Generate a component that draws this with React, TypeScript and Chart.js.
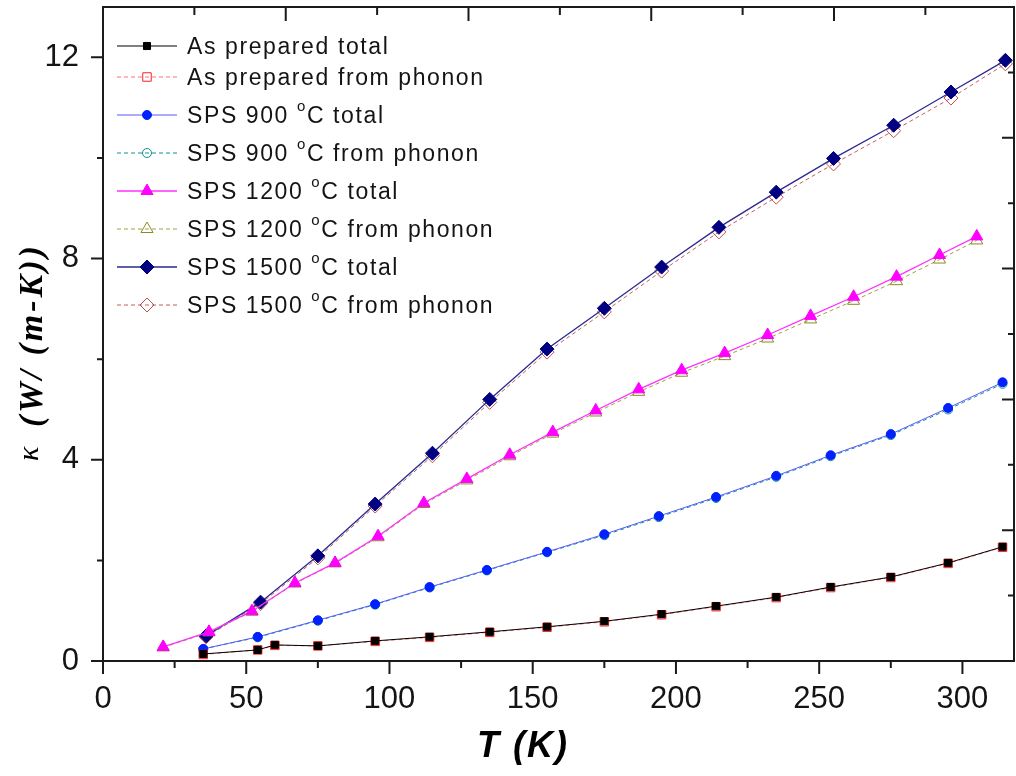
import React, { useEffect, useRef } from 'react';
import { Chart, registerables } from 'chart.js';
import { drawPoint } from 'chart.js/helpers';

Chart.register(...registerables);

// Temperature (K) and thermal conductivity κ (W/(m-K)) for each sample
const tAsPrepared = [35, 54, 60, 75, 95, 114, 135, 155, 175, 195, 214, 235, 254, 275, 295, 314];
const kAsPreparedTotal = [0.14, 0.22, 0.32, 0.30, 0.40, 0.48, 0.58, 0.68, 0.79, 0.93, 1.09, 1.27, 1.47, 1.67, 1.95, 2.27];
const kAsPreparedPhonon = [0.13, 0.22, 0.31, 0.30, 0.39, 0.47, 0.57, 0.67, 0.78, 0.92, 1.08, 1.26, 1.46, 1.66, 1.94, 2.26];

const t900 = [35, 54, 75, 95, 114, 134, 155, 175, 194, 214, 235, 254, 275, 295, 314];
const k900Total = [0.24, 0.48, 0.81, 1.13, 1.47, 1.81, 2.17, 2.52, 2.88, 3.26, 3.68, 4.09, 4.51, 5.03, 5.54];
const k900Phonon = [0.24, 0.47, 0.80, 1.12, 1.46, 1.80, 2.16, 2.50, 2.86, 3.24, 3.66, 4.07, 4.49, 5.00, 5.51];

const t1200 = [21, 37, 52, 67, 81, 96, 112, 127, 142, 157, 172, 187, 202, 217, 232, 247, 262, 277, 292, 305];
const k1200Total = [0.28, 0.58, 0.99, 1.55, 1.95, 2.48, 3.14, 3.62, 4.10, 4.55, 4.98, 5.40, 5.78, 6.12, 6.48, 6.86, 7.24, 7.64, 8.07, 8.44];
const k1200Phonon = [0.27, 0.57, 0.98, 1.54, 1.94, 2.46, 3.12, 3.59, 4.07, 4.52, 4.94, 5.35, 5.73, 6.06, 6.41, 6.79, 7.16, 7.55, 7.98, 8.36];

const t1500 = [36, 55, 75, 95, 115, 135, 155, 175, 195, 215, 235, 255, 276, 296, 315];
const k1500Total = [0.50, 1.17, 2.09, 3.12, 4.13, 5.20, 6.20, 7.01, 7.83, 8.62, 9.32, 9.99, 10.65, 11.31, 11.94];
const k1500Phonon = [0.48, 1.14, 2.05, 3.08, 4.08, 5.14, 6.14, 6.94, 7.75, 8.53, 9.22, 9.88, 10.54, 11.19, 11.87];

const seriesLabels = [
  'As prepared total',
  'As prepared from phonon',
  'SPS 900 °C total',
  'SPS 900 °C from phonon',
  'SPS 1200 °C total',
  'SPS 1200 °C from phonon',
  'SPS 1500 °C total',
  'SPS 1500 °C from phonon',
];

// Axis tick marks (bottom/left carry labels; top/right are bare frame axes)
const bottomTicks = [0, 25, 50, 75, 100, 125, 150, 175, 200, 225, 250, 275, 300];
const leftTicks = [0, 2, 4, 6, 8, 10, 12];
const topTicks = [0, 1, 2, 3, 4, 5, 6, 7, 8, 9];
const rightTicks = [0, 1, 2, 3, 4, 5, 6, 7, 8, 9, 10];

const SANS = "'Liberation Sans', Arial, Helvetica, sans-serif";
const SERIF = "'Liberation Serif', 'Times New Roman', serif";
const FRAME = '#1a1a1a';
const TEXT = '#141414';

type Style = {
  line: string;
  lineWidth: number;
  dash: number[];
  point: string;
  radius: number;
  edge: string;
  fill: string;
};

const styles: Style[] = [
  { line: '#000000', lineWidth: 1, dash: [], point: 'rect', radius: 5, edge: '#000000', fill: '#000000' },
  { line: '#ff7070', lineWidth: 1, dash: [4, 3], point: 'rect', radius: 6, edge: '#ff2020', fill: 'rgba(0,0,0,0)' },
  { line: '#5a5aff', lineWidth: 1, dash: [], point: 'circle', radius: 4.5, edge: '#0020ff', fill: '#0020ff' },
  { line: '#109090', lineWidth: 1, dash: [4, 3], point: 'circle', radius: 4.5, edge: '#109090', fill: 'rgba(0,0,0,0)' },
  { line: '#ff30ff', lineWidth: 1.3, dash: [], point: 'triangle', radius: 7, edge: '#ff00ff', fill: '#ff00ff' },
  { line: '#a0a040', lineWidth: 1, dash: [4, 3], point: 'triangle', radius: 7, edge: '#8a8a20', fill: 'rgba(0,0,0,0)' },
  { line: '#2a2a90', lineWidth: 1.3, dash: [], point: 'rectRot', radius: 7, edge: '#000080', fill: '#000080' },
  { line: '#c06060', lineWidth: 1, dash: [4, 3], point: 'rectRot', radius: 7, edge: '#c05050', fill: 'rgba(0,0,0,0)' },
];

const seriesX = [tAsPrepared, tAsPrepared, t900, t900, t1200, t1200, t1500, t1500];
const seriesY = [
  kAsPreparedTotal, kAsPreparedPhonon,
  k900Total, k900Phonon,
  k1200Total, k1200Phonon,
  k1500Total, k1500Phonon,
];

const toPoints = (xs: number[], ys: number[]) => xs.map((x, i) => ({ x, y: ys[i] }));

// Fixes a scale's box size and drops the label overhang padding so the
// plot frame sits where it should
const fixBox = (w: number | null, h: number | null) => (s: any) => {
  if (w !== null) s.width = w;
  if (h !== null) s.height = h;
  s.paddingTop = 0;
  s.paddingBottom = 0;
  s.paddingLeft = 0;
  s.paddingRight = 0;
};

// Legend text with the degree sign set as a raised small "o"
function drawLegendText(ctx: CanvasRenderingContext2D, text: string, x: number, baseline: number) {
  const parts = text.split('°');
  ctx.font = `23px ${SANS}`;
  ctx.fillText(parts[0], x, baseline);
  if (parts.length < 2) return;
  let cx = x + ctx.measureText(parts[0]).width;
  ctx.font = `15px ${SANS}`;
  ctx.fillText('o', cx, baseline - 12);
  cx += ctx.measureText('o').width;
  ctx.font = `23px ${SANS}`;
  ctx.fillText(parts[1], cx, baseline);
}

const sampleLegend = {
  id: 'sampleLegend',
  afterDraw(chart: any) {
    const ctx: CanvasRenderingContext2D = chart.ctx;
    chart.data.datasets.forEach((ds: any, i: number) => {
      const st = styles[i];
      const rowY = i === 0 ? 46 : 77 + (i - 1) * 38;
      ctx.save();
      ctx.strokeStyle = st.line;
      ctx.lineWidth = st.lineWidth;
      ctx.setLineDash(st.dash);
      ctx.beginPath();
      ctx.moveTo(117, rowY);
      ctx.lineTo(177, rowY);
      ctx.stroke();
      ctx.setLineDash([]);
      ctx.strokeStyle = st.edge;
      ctx.fillStyle = st.fill;
      ctx.lineWidth = 1;
      drawPoint(ctx, { pointStyle: st.point as any, radius: st.radius, rotation: 0, borderWidth: 1 } as any, 147, rowY);
      ctx.fillStyle = TEXT;
      ctx.textAlign = 'left';
      ctx.textBaseline = 'alphabetic';
      (ctx as any).letterSpacing = '1.6px';
      drawLegendText(ctx, ds.label, 187, rowY + 8);
      ctx.restore();
    });
  },
};

const axisDecor = {
  id: 'axisDecor',
  afterDraw(chart: any) {
    const { ctx, chartArea: a, scales } = chart;
    const { x, y, x2, y2 } = scales;
    ctx.save();
    ctx.strokeStyle = FRAME;
    ctx.lineWidth = 2;
    ctx.beginPath();
    for (const v of bottomTicks) {
      const p = x.getPixelForValue(v);
      const len = v % 50 === 0 ? 13 : 7;
      ctx.moveTo(p, a.bottom);
      ctx.lineTo(p, a.bottom + len);
    }
    for (const v of leftTicks) {
      const p = y.getPixelForValue(v);
      const len = v % 4 === 0 ? 12 : 6;
      ctx.moveTo(a.left, p);
      ctx.lineTo(a.left - len, p);
    }
    for (const v of topTicks) {
      const p = x2.getPixelForValue(v);
      const len = v % 2 === 0 ? 14 : 8;
      ctx.moveTo(p, a.top);
      ctx.lineTo(p, a.top + len);
    }
    for (const v of rightTicks) {
      const p = y2.getPixelForValue(v);
      const len = v % 2 === 0 ? 12 : 6;
      ctx.moveTo(a.right, p);
      ctx.lineTo(a.right - len, p);
    }
    ctx.stroke();

    // x-axis title
    ctx.fillStyle = '#000';
    ctx.textAlign = 'center';
    ctx.textBaseline = 'middle';
    (ctx as any).letterSpacing = '2px';
    ctx.font = `italic bold 36px ${SANS}`;
    ctx.fillText('T (K)', 523, 747);

    // y-axis title, rotated, read bottom to top
    ctx.translate(42, 461);
    ctx.rotate(-Math.PI / 2);
    ctx.textAlign = 'left';
    ctx.textBaseline = 'alphabetic';
    (ctx as any).letterSpacing = '0px';
    ctx.font = `italic 30px ${SERIF}`;
    ctx.fillText('κ', 0, -4);
    (ctx as any).letterSpacing = '3px';
    ctx.font = `italic bold 34px ${SERIF}`;
    ctx.fillText('(W/ (m-K))', 34, 0);
    ctx.restore();
  },
};

export default function App() {
  const canvasRef = useRef<HTMLCanvasElement | null>(null);

  useEffect(() => {
    if (!canvasRef.current) return;
    Chart.defaults.font.family = SANS;

    const datasets = seriesLabels.map((label, i) => {
      const st = styles[i];
      return {
        label,
        data: toPoints(seriesX[i], seriesY[i]),
        showLine: true,
        tension: 0,
        borderColor: st.line,
        borderWidth: st.lineWidth,
        borderDash: st.dash,
        pointStyle: st.point as any,
        pointRadius: st.radius,
        pointHoverRadius: st.radius,
        pointBorderColor: st.edge,
        pointBackgroundColor: st.fill,
        pointBorderWidth: 1,
      };
    });

    const chart = new Chart(canvasRef.current, {
      type: 'scatter',
      data: { datasets },
      options: {
        responsive: true,
        maintainAspectRatio: false,
        animation: false,
        layout: { padding: 0, autoPadding: false },
        plugins: {
          legend: { display: false },
          tooltip: { enabled: false },
        },
        scales: {
          x: {
            type: 'linear',
            position: 'bottom',
            min: 0,
            max: 318,
            grid: { display: false, drawTicks: false },
            border: { display: true, color: FRAME, width: 2 },
            ticks: {
              stepSize: 50,
              includeBounds: false,
              padding: 20,
              color: TEXT,
              font: { size: 31, family: SANS },
              maxRotation: 0,
              autoSkip: false,
            },
            afterFit: fixBox(null, 115),
          },
          y: {
            type: 'linear',
            position: 'left',
            min: 0,
            max: 13,
            grid: { display: false, drawTicks: false },
            border: { display: true, color: FRAME, width: 2 },
            ticks: {
              stepSize: 4,
              includeBounds: false,
              padding: 24,
              color: TEXT,
              font: { size: 31, family: SANS },
            },
            afterFit: fixBox(103, null),
          },
          x2: {
            type: 'linear',
            position: 'top',
            min: 0,
            max: 9.97,
            grid: { display: false, drawTicks: false },
            border: { display: true, color: FRAME, width: 2 },
            ticks: { display: false },
            afterFit: fixBox(null, 7),
          },
          y2: {
            type: 'linear',
            position: 'right',
            min: 0,
            max: 10,
            grid: { display: false, drawTicks: false },
            border: { display: true, color: FRAME, width: 2 },
            ticks: { display: false },
            afterFit: fixBox(2, null),
          },
        },
      },
      plugins: [axisDecor, sampleLegend],
    });

    return () => chart.destroy();
  }, []);

  return (
    <div style={{ position: 'absolute', left: 0, top: 0, width: 1016, height: 776, background: '#fff' }}>
      <canvas ref={canvasRef} />
    </div>
  );
}
